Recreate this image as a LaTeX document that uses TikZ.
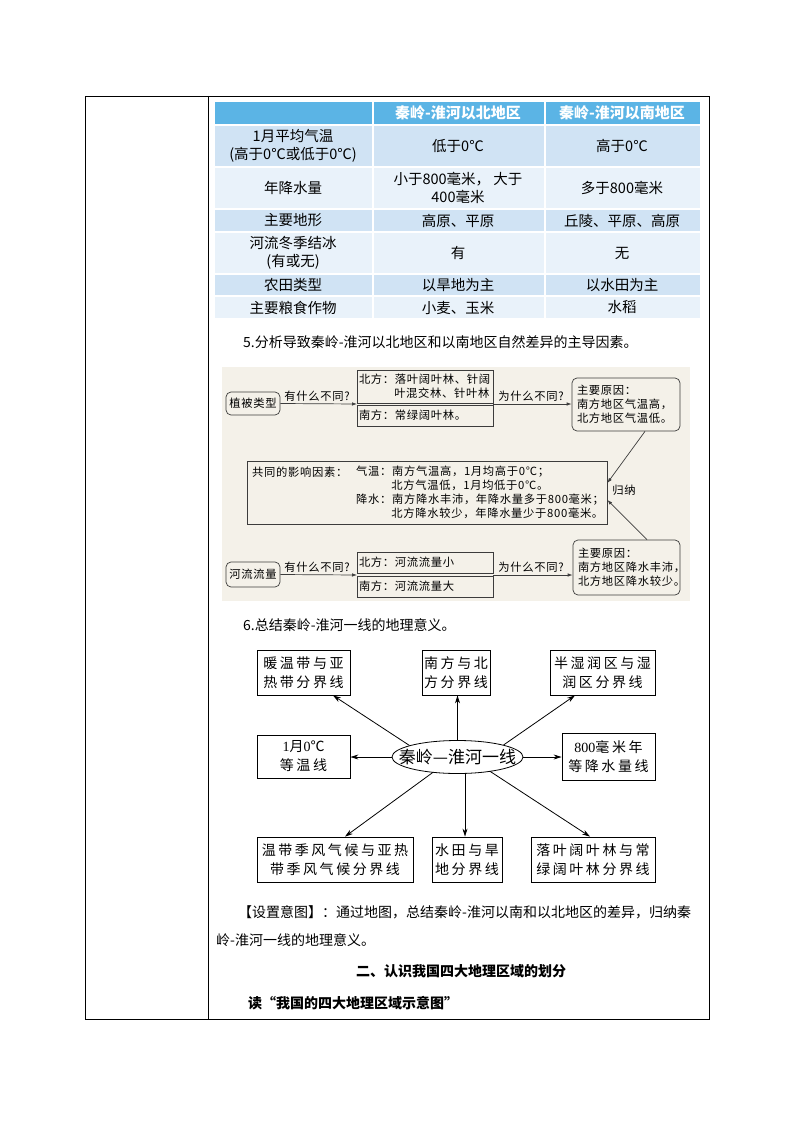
\documentclass[tikz,border=0pt]{standalone}
\usepackage{fontspec}
\setmainfont{Noto Sans CJK SC}
\newfontfamily\cjk{Noto Sans CJK SC}
\newfontfamily\cjkfl[LetterSpace=6]{Noto Sans CJK SC}
\newfontfamily\cjkml[LetterSpace=18]{Noto Sans CJK SC}
\newfontfamily\tnr{Liberation Serif}
\usetikzlibrary{arrows.meta,calc,shapes.geometric}
\definecolor{hdr}{RGB}{91,180,229}
\definecolor{rowA}{RGB}{208,227,244}
\definecolor{rowB}{RGB}{233,242,250}
\definecolor{beige}{RGB}{244,241,233}
\definecolor{fline}{RGB}{60,60,60}
\newcommand\myfl{\cjkfl\fontsize{11.3}{13.8}\selectfont}
\newcommand\myml{\cjkml\fontsize{14}{19}\selectfont}
\tikzset{
  tcell/.style={font=\cjk\fontsize{14.5}{18}\selectfont, align=center, inner sep=0pt},
  thead/.style={font=\cjk\bfseries\fontsize{15}{18}\selectfont, text=white, inner sep=0pt},
  body/.style={font=\cjk\fontsize{14}{16}\selectfont, anchor=west, inner sep=0pt},
  bodyb/.style={font=\cjk\fontsize{14}{17}\selectfont, anchor=west, inner sep=0pt},
  fb/.style={draw=fline, line width=0.7pt, font=\myfl, align=left, inner xsep=2pt, inner ysep=1pt, text width=132pt, minimum height=21pt},
  rb/.style={draw=fline, line width=0.7pt, font=\myfl, rounded corners=5pt, inner sep=2pt},
  flab/.style={font=\myfl, inner sep=0pt},
  fa/.style={-{Latex[length=5pt,width=3.5pt]}, draw=fline, line width=0.7pt},
  mb/.style={draw=black, line width=0.8pt, font=\myml, align=center, inner sep=1pt, minimum height=45pt},
  ma/.style={-{Stealth[length=8pt,width=5pt]}, line width=0.8pt},
}
\begin{document}
\begin{tikzpicture}[x=1pt,y=-1pt]
\useasboundingbox (0,0) rectangle (794,1123);
\fill[white] (0,0) rectangle (794,1123);
% outer frame
\draw[line width=0.9pt] (85,96) rectangle (709,1019);
\draw[line width=0.9pt] (208,96) -- (208,1019);
% table
\foreach \ya/\yb/\c in {102/124/hdr,126/166/rowA,168/208/rowB,210/231/rowA,233/273/rowB,275/295/rowA,297/318/rowB}{
  \fill[\c] (215,\ya) rectangle (372,\yb);
  \fill[\c] (374,\ya) rectangle (544,\yb);
  \fill[\c] (546,\ya) rectangle (700,\yb);
}
\node[thead] (h2) at (458,113) {秦岭-淮河以北地区};
\node[thead] (h3) at (622,113) {秦岭-淮河以南地区};
\node[tcell] (c11) at (293,146) {1月平均气温\\(高于0℃或低于0℃)};
\node[tcell] (c12) at (458,146) {低于0℃};
\node[tcell] (c13) at (622,146) {高于0℃};
\node[tcell] (c21) at (293,188) {年降水量};
\node[tcell] (c22) at (458,188) {小于800毫米， 大于\\400毫米};
\node[tcell] (c23) at (622,188) {多于800毫米};
\node[tcell] (c31) at (293,220.5) {主要地形};
\node[tcell] (c32) at (458,220.5) {高原、平原};
\node[tcell] (c33) at (622,220.5) {丘陵、平原、高原};
\node[tcell] (c41) at (293,253) {河流冬季结冰\\(有或无)};
\node[tcell] (c42) at (458,253) {有};
\node[tcell] (c43) at (622,253) {无};
\node[tcell] (c51) at (293,285) {农田类型};
\node[tcell] (c52) at (458,285) {以旱地为主};
\node[tcell] (c53) at (622,285) {以水田为主};
\node[tcell] (c61) at (293,307.5) {主要粮食作物};
\node[tcell] (c62) at (458,307.5) {小麦、玉米};
\node[tcell] (c63) at (622,307.5) {水稻};
% question 5
\node[body] (q5) at (243,342) {5.分析导致秦岭-淮河以北地区和以南地区自然差异的主导因素。};
% flowchart
\fill[beige] (222,367) rectangle (690,601);
\node[rb, minimum width=54pt, minimum height=23pt] (zb) at (253,403.5) {植被类型};
\node[fb, minimum height=33pt] (nb1) at (425,386.5) {北方：落叶阔叶林、针阔\\\hphantom{北方：}叶混交林、针叶林};
\node[fb] (sb1) at (425,415.5) {南方：常绿阔叶林。};
\node[rb, text width=98pt, inner xsep=5pt, minimum height=53pt, align=left] (r1) at (626,404.5) {主要原因：\\南方地区气温高，\\北方地区气温低。};
\node[draw=fline, line width=0.7pt, minimum width=360pt, minimum height=63pt] (big) at (427,492.5) {};
\node[flab, anchor=west] (t1) at (252,472) {共同的影响因素：};
\node[flab, anchor=west, align=left] (t2) at (356,492.5) {气温：南方气温高，1月均高于0℃；\\\hphantom{气温：}北方气温低，1月均低于0℃。\\降水：南方降水丰沛，年降水量多于800毫米；\\\hphantom{降水：}北方降水较少，年降水量少于800毫米。};
\node[rb, text width=97pt, inner xsep=5pt, minimum height=55pt, align=left] (r2) at (626.5,567.5) {主要原因：\\南方地区降水丰沛，\\北方地区降水较少。};
\node[rb, minimum width=54pt, minimum height=25pt] (hl) at (253,574.5) {河流流量};
\node[fb] (nb2) at (425,562.5) {北方：河流流量小};
\node[fb] (sb2) at (425,586.5) {南方：河流流量大};
\node[flab] (l1) at (317,396) {有什么不同?};
\node[flab] (l2) at (531,396) {为什么不同?};
\node[flab] (l3) at (317,567) {有什么不同?};
\node[flab] (l4) at (531,567) {为什么不同?};
\node[flab] (l5) at (624,490) {归纳};
\coordinate (j1) at (357,404);
\coordinate (j2) at (357,575);
\draw[fa] (zb.east) -- (j1);
\draw[fa] (j1 -| nb1.east) -- (j1 -| r1.west);
\draw[fa] (hl.east) -- (j2);
\draw[fa] (j2 -| nb2.east) -- (j2 -| r2.west);
\draw[fa] ($(r1.south)+(19,0)$) -- ($(big.east)+(0,-9.5)$);
\draw[fa] ($(r2.north)+(20.5,0)$) -- ($(big.east)+(0,7.5)$);
% question 6
\node[body] (q6) at (243,625) {6.总结秦岭-淮河一线的地理意义。};
% spider diagram
\node[mb, minimum width=93pt] (a1) at (303.5,672.5) {暖温带与亚\\热带分界线};
\node[mb, minimum width=68pt] (a2) at (456,672.5) {南方与北\\方分界线};
\node[mb, minimum width=105pt] (a3) at (602.5,672.5) {半湿润区与湿\\润区分界线};
\node[mb, minimum width=93pt, minimum height=43pt] (a4) at (303.5,756.5) {{\tnr 1}月{\tnr 0}℃\\等温线};
\node[ellipse, draw=black, line width=0.8pt, minimum width=131pt, minimum height=33pt, inner sep=0pt] (el) at (457.5,757) {};
\node[font=\cjk\fontsize{17}{20}\selectfont, inner sep=0pt] (elt) at (el.center) {秦岭—淮河一线};
\node[mb, minimum width=93pt, minimum height=47pt] (a5) at (608.5,756.5) {{\tnr 800}毫米年\\等降水量线};
\node[mb, minimum width=156pt] (a6) at (335,859.5) {温带季风气候与亚热\\带季风气候分界线};
\node[mb, minimum width=70pt] (a7) at (467,859.5) {水田与旱\\地分界线};
\node[mb, minimum width=124pt] (a8) at (593,859.5) {落叶阔叶林与常\\绿阔叶林分界线};
\draw[ma] ($(el.center)+(-48,-11.5)$) -- ($(a1.south)+(29.5,0)$);
\draw[ma] (el.north) -- (el.north |- a2.south);
\draw[ma] ($(el.center)+(46,-12)$) -- ($(a3.south)+(-27.5,0)$);
\draw[ma] (el.west) -- (el.west -| a4.east);
\draw[ma] (el.east) -- (el.east -| a5.west);
\draw[ma] ($(el.center)+(-24.5,15.3)$) -- ($(a6.north)+(10,0)$);
\draw[ma] ($(el.center)+(7.5,16.5)$) -- ($(a7.north)+(-2,0)$);
\draw[ma] ($(el.center)+(32.5,14.3)$) -- ($(a8.north)+(-3,0)$);
% closing text
\node[bodyb] (p1) at (238,912) {【设置意图】：通过地图，总结秦岭-淮河以南和以北地区的差异，归纳秦};
\node[bodyb] (p2) at (216,940) {岭-淮河一线的地理意义。};
\node[font=\cjk\bfseries\fontsize{14}{17}\selectfont, inner sep=0pt] (p3) at (461,971) {二、认识我国四大地理区域的划分};
\node[font=\cjk\bfseries\fontsize{14}{17}\selectfont, anchor=west, inner sep=0pt] (p4) at (248,1003) {读“我国的四大地理区域示意图”};
\end{tikzpicture}
\end{document}
